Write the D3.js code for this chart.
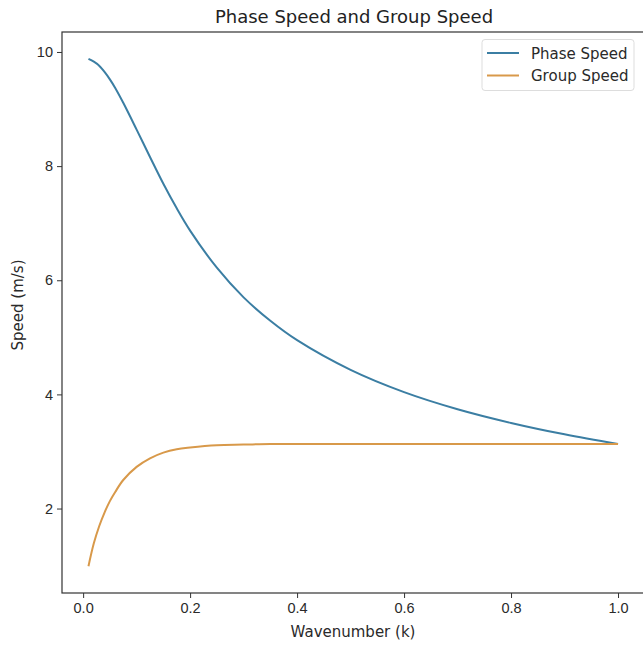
<!DOCTYPE html>
<meta charset="utf-8">
<style>
body { margin: 0; background: #fff; }
svg { font-family: "DejaVu Sans", sans-serif; }
.tick text { font-size: 14.5px; fill: #2a2a2a; }
.tick line { stroke: #333; }
.title { font-size: 18px; fill: #222; }
.label { font-size: 15px; fill: #2a2a2a; }
.legend text { font-size: 15px; fill: #2a2a2a; }
</style>
<svg width="643" height="645"></svg>
<script src="https://d3js.org/d3.v7.min.js"></script>
<script>

// values
var wavenumber = [0.01, 0.02, 0.03, 0.04, 0.05, 0.06, 0.075, 0.1, 0.125, 0.15, 0.175, 0.2,
                  0.25, 0.3, 0.35, 0.4, 0.5, 0.6, 0.7, 0.8, 0.9, 1.0];
var phaseSpeed = [9.88, 9.83, 9.76, 9.65, 9.52, 9.37, 9.11, 8.64, 8.16, 7.69, 7.26, 6.87,
                  6.22, 5.70, 5.29, 4.95, 4.43, 4.04, 3.74, 3.50, 3.30, 3.13];
var groupSpeed = [0.99, 1.39, 1.69, 1.93, 2.13, 2.29, 2.50, 2.73, 2.88, 2.98, 3.04, 3.07,
                  3.11, 3.12, 3.13, 3.13, 3.13, 3.13, 3.13, 3.13, 3.13, 3.13];
var xTicks = [0.0, 0.2, 0.4, 0.6, 0.8, 1.0];
var yTicks = [2, 4, 6, 8, 10];
var seriesNames = ["Phase Speed", "Group Speed"];
var seriesColors = ["#3b7ea3", "#d8994a"];

var svg = d3.select("svg"),
    plotLeft = 62, plotRight = 644.5, plotTop = 32, plotBottom = 593;

var x = d3.scaleLinear()
    .domain([-0.0395, 1.0495])
    .range([plotLeft, plotRight]);

var y = d3.scaleLinear()
    .domain([0.52, 10.35])
    .range([plotBottom, plotTop]);

svg.append("g")
    .attr("transform", "translate(0," + plotBottom + ")")
    .call(d3.axisBottom(x).tickValues(xTicks).tickFormat(d3.format(".1f")).tickSize(5).tickPadding(5))
    .call(function(g) { g.select(".domain").remove(); });

svg.append("g")
    .attr("transform", "translate(" + plotLeft + ",0)")
    .call(d3.axisLeft(y).tickValues(yTicks).tickSize(5).tickPadding(4))
    .call(function(g) { g.select(".domain").remove(); });

// frame
svg.append("rect")
    .attr("x", plotLeft).attr("y", plotTop)
    .attr("width", plotRight - plotLeft).attr("height", plotBottom - plotTop)
    .attr("fill", "none").attr("stroke", "#333").attr("stroke-width", 1.2);

var line = d3.line()
    .x(function(d) { return x(d[0]); })
    .y(function(d) { return y(d[1]); })
    .curve(d3.curveCatmullRom.alpha(0.5));

[phaseSpeed, groupSpeed].forEach(function(values, i) {
  svg.append("path")
      .datum(d3.zip(wavenumber, values))
      .attr("fill", "none")
      .attr("stroke", seriesColors[i])
      .attr("stroke-width", 2)
      .attr("d", line);
});

svg.append("text")
    .attr("class", "title")
    .attr("x", 354).attr("y", 23)
    .attr("text-anchor", "middle")
    .text("Phase Speed and Group Speed");

svg.append("text")
    .attr("class", "label")
    .attr("x", 353).attr("y", 637)
    .attr("text-anchor", "middle")
    .text("Wavenumber (k)");

svg.append("text")
    .attr("class", "label")
    .attr("transform", "translate(23,305) rotate(-90)")
    .attr("text-anchor", "middle")
    .text("Speed (m/s)");

var legend = svg.append("g").attr("class", "legend");

legend.append("rect")
    .attr("x", 482).attr("y", 39.5)
    .attr("width", 152).attr("height", 51)
    .attr("rx", 3)
    .attr("fill", "#fff").attr("stroke", "#ddd");

seriesNames.forEach(function(name, i) {
  var ly = 53 + i * 22.5;
  legend.append("line")
      .attr("x1", 487).attr("x2", 519)
      .attr("y1", ly).attr("y2", ly)
      .attr("stroke", seriesColors[i]).attr("stroke-width", 2);
  legend.append("text")
      .attr("x", 531).attr("y", ly + 5.5)
      .text(name);
});

</script>
